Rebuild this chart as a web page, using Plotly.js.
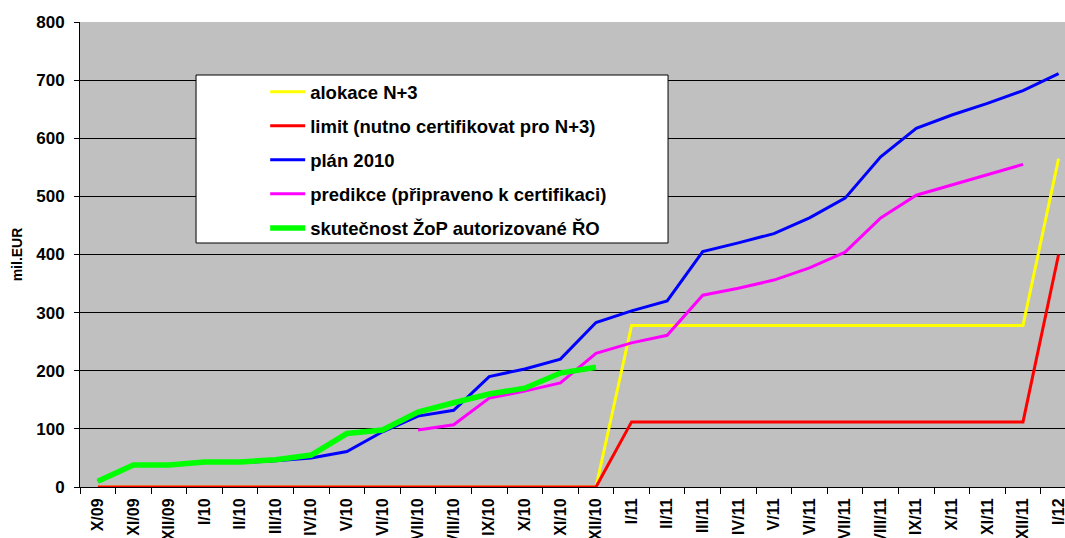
<!DOCTYPE html>
<html>
<head>
<meta charset="utf-8">
<script src="https://cdn.plot.ly/plotly-3.0.1.min.js"></script>
<style>
html,body{margin:0;padding:0;background:#fff;}
#chart{width:1065px;height:538px;}
</style>
</head>
<body>
<div id="chart"></div>
<script>
const months = ['X/09','XI/09','XII/09','I/10','II/10','III/10','IV/10','V/10','VI/10','VII/10','VIII/10','IX/10','X/10','XI/10','XII/10','I/11','II/11','III/11','IV/11','V/11','VI/11','VII/11','VIII/11','IX/11','X/11','XI/11','XII/11','I/12'];

const alokace = [0,0,0,0,0,0,0,0,0,0,0,0,0,0,0,278,278,278,278,278,278,278,278,278,278,278,278,565];
const limit = [0,0,0,0,0,0,0,0,0,0,0,0,0,0,0,112,112,112,112,112,112,112,112,112,112,112,112,400];
const plan2010 = [10,37,37,42,42,45,50,61,95,122,132,190,203,220,283,303,320,405,420,436,463,497,568,617,640,660,682,711];
const predikce = [null,null,null,null,null,null,null,null,null,98,107,153,165,179,230,248,261,330,342,356,377,404,463,502,520,537,555,null];
const skutecnost = [10,38,38,43,43,47,55,92,98,129,145,160,170,196,206,null,null,null,null,null,null,null,null,null,null,null,null,null];

const seriesNames = ['alokace N+3','limit (nutno certifikovat pro N+3)','plán 2010','predikce (připraveno k certifikaci)','skutečnost ŽoP autorizované ŘO'];
const seriesColors = ['#FFFF00','#FF0000','#0000FF','#FF00FF','#00FF00'];
const seriesWidths = [3,3,3,3,5.5];
const seriesData = [alokace, limit, plan2010, predikce, skutecnost];

const traces = seriesData.map((d, i) => ({
  type: 'scatter',
  mode: 'lines',
  x: months,
  y: d,
  name: seriesNames[i],
  legendgroup: 'g' + i,
  line: {color: seriesColors[i], width: seriesWidths[i]},
  connectgaps: false,
  hoverinfo: 'x+y+name'
}));

const font = 'Liberation Sans, Arial, sans-serif';

const layout = {
  width: 1065,
  height: 538,
  margin: {l: 80, r: 0, t: 22, b: 51, pad: 0},
  paper_bgcolor: '#FFFFFF',
  plot_bgcolor: '#C0C0C0',
  showlegend: true,
  legend: {
    x: 0.188, xanchor: 'left',
    y: 0.890, yanchor: 'top',
    bgcolor: 'rgba(0,0,0,0)',
    borderwidth: 0,
    itemwidth: 35,
    tracegroupgap: 7,
    font: {family: font, size: 18.5, color: '#000', weight: 'bold'}
  },
  xaxis: {
    type: 'category',
    range: [-0.5, 27.18],
    tickson: 'boundaries',
    ticks: 'outside',
    ticklen: 6,
    tickcolor: '#000',
    tickwidth: 1,
    tickangle: -90,
    ticklabelstandoff: 4,
    tickfont: {family: font, size: 16, color: '#000', weight: 'bold'},
    showgrid: false,
    showline: true,
    linecolor: '#000',
    linewidth: 1,
    zeroline: false,
    automargin: false,
    fixedrange: true
  },
  yaxis: {
    range: [0, 800],
    tickmode: 'linear',
    tick0: 0,
    dtick: 100,
    ticks: 'outside',
    ticklen: 5,
    tickcolor: '#000',
    tickwidth: 1,
    ticklabelstandoff: 6,
    tickfont: {family: font, size: 17, color: '#000', weight: 'bold'},
    showgrid: true,
    gridcolor: '#000',
    gridwidth: 1,
    showline: true,
    linecolor: '#000',
    linewidth: 1,
    zeroline: false,
    automargin: false,
    fixedrange: true,
    title: {text: 'mil.EUR', standoff: 10, font: {family: font, size: 14, color: '#000', weight: 'bold'}}
  },
  shapes: [{
    type: 'rect', xref: 'paper', yref: 'paper', layer: 'above',
    x0: 0.1178, x1: 0.597, y0: 0.5247, y1: 0.886,
    fillcolor: '#FFFFFF',
    line: {color: '#000', width: 1}
  }]
};

Plotly.newPlot('chart', traces, layout, {displayModeBar: false, staticPlot: true});
</script>
</body>
</html>
